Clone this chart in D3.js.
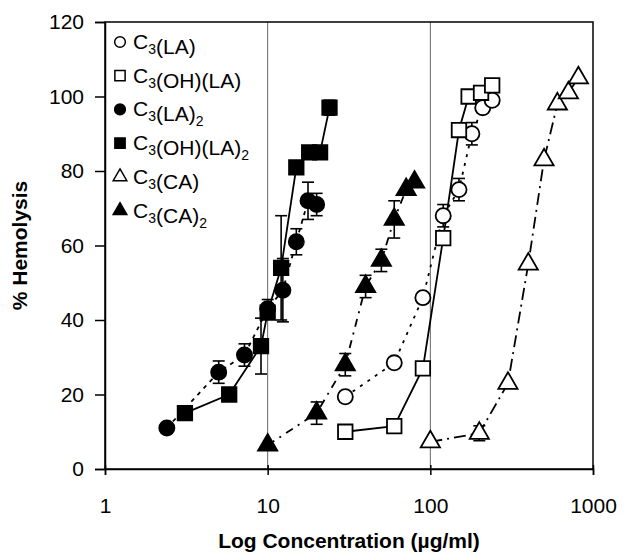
<!DOCTYPE html>
<html>
<head>
<meta charset="utf-8">
<script src="https://cdn.jsdelivr.net/npm/d3@7"></script>
<style>
  body { margin: 0; background: #fff; }
  text { font-family: "Liberation Sans", Arial, sans-serif; }
</style>
</head>
<body>
<svg id="chart" width="625" height="559"></svg>
<script>
// --- données ---
const xTicks = [1, 10, 100, 1000];
const yTicks = [0, 20, 40, 60, 80, 100, 120];

const la_x = [30, 60, 90, 120, 150, 180, 210, 240];
const la_y = [19.4, 28.5, 46, 68, 75, 90, 97, 99];
const la_e = [0, 0, 0, 3, 3, 3, 0, 0];

const ohla_x = [30, 60, 90, 120, 150, 172, 205, 240];
const ohla_y = [10, 11.5, 27, 62, 91, 100, 101, 103];
const ohla_e = [0, 0, 0, 0, 0, 0, 0, 0];

const la2_x = [2.4, 5, 7.2, 10, 12.4, 15, 17.7, 20];
const la2_y = [11, 26, 30.6, 43, 48, 61, 72, 71];
const la2_e = [0, 3, 3, 2.5, 8.5, 3.5, 5, 3];

const ohla2_x = [3.1, 5.8, 9.1, 10, 12.1, 15, 18, 21, 24];
const ohla2_y = [15, 20, 33, 42, 54, 81, 85, 85, 97];
const ohla2_e = [0, 0, 7.5, 0, 14, 0, 0, 0, 2];

const ca_x = [100, 200, 300, 400, 500, 604, 706, 813];
const ca_y = [7.3, 9.6, 23, 55, 83, 98, 101, 105];
const ca_e = [0, 2, 0, 0, 0, 0, 0, 0];

const ca2_x = [10, 20, 30, 40, 50, 60, 71, 80];
const ca2_y = [6.4, 15, 28, 49, 56, 67, 75, 77];
const ca2_e = [0, 3, 3, 3, 3, 5, 0, 0];

const seriesNames = ["C3(LA)", "C3(OH)(LA)", "C3(LA)2", "C3(OH)(LA)2", "C3(CA)", "C3(CA)2"];

// --- mise en page ---
const svg = d3.select("#chart");
const margin = {left: 105, right: 32, top: 22, bottom: 90};
const W = 625, H = 559;

const x = d3.scaleLog().domain([1, 1000]).range([margin.left, W - margin.right]);
const y = d3.scaleLinear().domain([0, 120]).range([H - margin.bottom, margin.top]);

const series = [
  {name: seriesNames[0], xs: la_x, ys: la_y, es: la_e, sym: d3.symbolCircle, fill: "#fff", dash: "3,6"},
  {name: seriesNames[1], xs: ohla_x, ys: ohla_y, es: ohla_e, sym: d3.symbolSquare, fill: "#fff", dash: null},
  {name: seriesNames[2], xs: la2_x, ys: la2_y, es: la2_e, sym: d3.symbolCircle, fill: "#000", dash: "4,5"},
  {name: seriesNames[3], xs: ohla2_x, ys: ohla2_y, es: ohla2_e, sym: d3.symbolSquare, fill: "#000", dash: null},
  {name: seriesNames[4], xs: ca_x, ys: ca_y, es: ca_e, sym: d3.symbolTriangle, fill: "#fff", dash: "12,5,2,5"},
  {name: seriesNames[5], xs: ca2_x, ys: ca2_y, es: ca2_e, sym: d3.symbolTriangle, fill: "#000", dash: "8,6,2,6"}
];
const symSize = {circle: 180, square: 210, triangle: 160};
function sizeOf(sym) {
  if (sym === d3.symbolCircle) return symSize.circle;
  if (sym === d3.symbolSquare) return symSize.square;
  return symSize.triangle;
}

// lignes verticales à 10 et 100
svg.selectAll(".vline")
  .data([10, 100])
  .enter().append("line")
  .attr("x1", d => x(d)).attr("x2", d => x(d))
  .attr("y1", y(120)).attr("y2", y(0))
  .attr("stroke", "#666").attr("stroke-width", 1);

// cadre
svg.append("rect")
  .attr("x", x(1)).attr("y", y(120))
  .attr("width", x(1000) - x(1)).attr("height", y(0) - y(120))
  .attr("fill", "none").attr("stroke", "#000").attr("stroke-width", 1.5);

// axes
const xAxis = svg.append("g")
  .attr("transform", `translate(0,${y(0)})`)
  .call(d3.axisBottom(x).tickValues(xTicks).tickFormat(d3.format("d")).tickSize(6).tickPadding(23));
const yAxis = svg.append("g")
  .attr("transform", `translate(${x(1)},0)`)
  .call(d3.axisLeft(y).tickValues(yTicks).tickSize(10).tickPadding(11));
[xAxis, yAxis].forEach(g => {
  g.select(".domain").attr("stroke-width", 1.5);
  g.selectAll(".tick line").attr("stroke-width", 1.5);
  g.selectAll(".tick text").attr("font-size", 21).attr("font-family", "Liberation Sans, Arial, sans-serif").attr("fill", "#000");
});
xAxis.selectAll(".tick line").attr("y1", -4);

// titres
svg.append("text")
  .attr("x", (x(1) + x(1000)) / 2).attr("y", 548)
  .attr("text-anchor", "middle").attr("font-size", 21).attr("font-weight", "bold")
  .text("Log Concentration (µg/ml)");
svg.append("text")
  .attr("transform", `translate(27,${(y(0) + y(120)) / 2}) rotate(-90)`)
  .attr("text-anchor", "middle").attr("font-size", 21).attr("font-weight", "bold")
  .text("% Hemolysis");

// courbes
const line = d3.line().x(d => x(d[0])).y(d => y(d[1]));
series.forEach(s => {
  const pts = s.xs.map((v, i) => [v, s.ys[i], s.es[i]]);
  svg.append("path")
    .attr("d", line(pts))
    .attr("fill", "none").attr("stroke", "#000").attr("stroke-width", 1.8)
    .attr("stroke-dasharray", s.dash);
  s.pts = pts;
});

// barres d'erreur
series.forEach(s => {
  const g = svg.append("g").attr("stroke", "#000").attr("stroke-width", 1.6);
  s.pts.filter(p => p[2] > 0).forEach(p => {
    const cx = x(p[0]);
    g.append("line").attr("x1", cx).attr("x2", cx).attr("y1", y(p[1] - p[2])).attr("y2", y(p[1] + p[2]));
    [p[1] - p[2], p[1] + p[2]].forEach(v => {
      g.append("line").attr("x1", cx - 6).attr("x2", cx + 6).attr("y1", y(v)).attr("y2", y(v));
    });
  });
});

// marqueurs
series.forEach(s => {
  svg.append("g").selectAll("path")
    .data(s.pts)
    .enter().append("path")
    .attr("d", d3.symbol().type(s.sym).size(sizeOf(s.sym)))
    .attr("transform", d => `translate(${x(d[0])},${y(d[1])})`)
    .attr("fill", s.fill).attr("stroke", "#000").attr("stroke-width", 1.8);
});

// légende
const legend = svg.append("g");
series.forEach((s, i) => {
  const ly = 42 + i * 33.7;
  legend.append("path")
    .attr("d", d3.symbol().type(s.sym).size(sizeOf(s.sym) * 0.5))
    .attr("transform", `translate(120,${ly})`)
    .attr("fill", s.fill).attr("stroke", "#000").attr("stroke-width", 1.5);
  const t = legend.append("text")
    .attr("x", 133).attr("y", ly + 7).attr("font-size", 21);
  // découpage du nom : chiffres en indice
  s.name.split(/(\d)/).filter(p => p !== "").forEach(part => {
    if (/\d/.test(part)) {
      t.append("tspan").attr("font-size", 14).attr("dy", 5).text(part);
      t.append("tspan").attr("dy", -5).text("");
    } else {
      t.append("tspan").text(part);
    }
  });
});
</script>
</body>
</html>
